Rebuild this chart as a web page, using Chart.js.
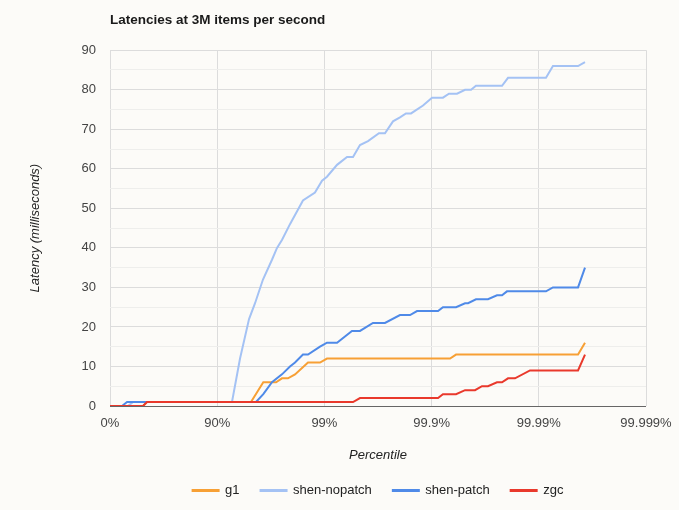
<!DOCTYPE html>
<html>
<head>
<meta charset="utf-8">
<title>Latencies at 3M items per second</title>
<script src="https://cdn.jsdelivr.net/npm/chart.js@4.4.1/dist/chart.umd.min.js"></script>
<style>
  body { margin: 0; background: #fcfbf8; }
  #wrap { width: 679px; height: 510px; }
</style>
</head>
<body>
<div id="wrap"><canvas id="latencyCanvas" width="679" height="510"></canvas></div>
<script>
// x values are in "nines": 0 = 0%, 1 = 90%, 2 = 99%, 3 = 99.9%, ...
const percentileLabels = ['0%', '90%', '99%', '99.9%', '99.99%', '99.999%'];
const seriesNames = ['g1', 'shen-nopatch', 'shen-patch', 'zgc'];
const seriesColors = ['#f7a035', '#a4c2f4', '#4f8ae8', '#e9392c'];

const g1Nines = [0, 0.308, 0.345, 1.315, 1.430, 1.549, 1.604, 1.660, 1.726, 1.847, 1.959, 2.024, 3.172, 3.228, 4.366, 4.431];
const g1Ms    = [0, 0, 1, 1, 6, 6, 7, 7, 8, 11, 11, 12, 12, 13, 13, 16];

const shenNopatchNines = [0, 0.168, 0.215, 1.138, 1.213, 1.297, 1.353, 1.427, 1.511, 1.558,
  1.604, 1.679, 1.800, 1.912, 1.978, 2.024, 2.118, 2.211, 2.267, 2.332,
  2.407, 2.509, 2.565, 2.640, 2.705, 2.761, 2.808, 2.920, 3.004, 3.106,
  3.162, 3.237, 3.312, 3.368, 3.414, 3.657, 3.713, 4.067, 4.132, 4.366, 4.431];
const shenNopatchMs = [0, 0, 1, 1, 12, 22, 26, 32, 37, 40,
  42, 46, 52, 54, 57, 58, 61, 63, 63, 66,
  67, 69, 69, 72, 73, 74, 74, 76, 78, 78,
  79, 79, 80, 80, 81, 81, 83, 83, 86, 86, 87];

const shenPatchNines = [0, 0.112, 0.159, 1.362, 1.430, 1.511, 1.604, 1.679, 1.726, 1.800,
  1.847, 1.959, 2.024, 2.118, 2.257, 2.332, 2.453, 2.565, 2.705, 2.799,
  2.864, 3.060, 3.106, 3.228, 3.312, 3.340, 3.414, 3.526, 3.610, 3.657,
  3.703, 4.067, 4.132, 4.366, 4.431];
const shenPatchMs = [0, 0, 1, 1, 3, 6, 8, 10, 11, 13,
  13, 15, 16, 16, 19, 19, 21, 21, 23, 23,
  24, 24, 25, 25, 26, 26, 27, 27, 28, 28,
  29, 29, 30, 30, 35];

const zgcNines = [0, 0.308, 0.345, 2.267, 2.332, 3.060, 3.106, 3.228, 3.312, 3.405,
  3.470, 3.526, 3.610, 3.657, 3.713, 3.778, 3.918, 4.366, 4.431];
const zgcMs = [0, 0, 1, 1, 2, 2, 3, 3, 4, 4,
  5, 5, 6, 6, 7, 7, 9, 9, 13];

const yTicks = { min: 0, max: 90, step: 5, labelEvery: 10 };

Chart.defaults.font.family = '"Liberation Sans", Arial, sans-serif';

function toPoints(nines, ms) {
  return nines.map((x, i) => ({ x: x, y: ms[i] }));
}

const allNines = [g1Nines, shenNopatchNines, shenPatchNines, zgcNines];
const allMs = [g1Ms, shenNopatchMs, shenPatchMs, zgcMs];

// later series are painted on top, like the original
const datasets = seriesNames.map((name, i) => ({
  label: name,
  data: toPoints(allNines[i], allMs[i]),
  borderColor: seriesColors[i],
  backgroundColor: seriesColors[i],
  borderWidth: 2,
  pointRadius: 0,
  tension: 0,
  fill: false,
  order: seriesNames.length - i
}));

const ctx = document.getElementById('latencyCanvas').getContext('2d');

new Chart(ctx, {
  type: 'line',
  data: { datasets: datasets },
  options: {
    responsive: false,
    animation: false,
    layout: { padding: { top: 0, right: 33, bottom: 3, left: 0 } },
    plugins: {
      title: {
        display: true,
        text: 'Latencies at 3M items per second',
        align: 'start',
        fullSize: false,
        color: '#1a1a1a',
        font: { size: 13.5, weight: 'bold' },
        padding: { top: 12, bottom: 22 }
      },
      legend: {
        position: 'bottom',
        fullSize: false,
        labels: {
          boxWidth: 26,
          boxHeight: 1,
          padding: 21,
          color: '#222',
          font: { size: 13 },
          sort: (a, b) => a.datasetIndex - b.datasetIndex
        }
      },
      tooltip: { enabled: false }
    },
    scales: {
      x: {
        type: 'linear',
        min: 0,
        max: percentileLabels.length - 1,
        afterFit: (scale) => {
          scale.height = 57;
          scale.paddingRight = 0;
        },
        ticks: {
          stepSize: 1,
          padding: 10,
          autoSkip: false,
          maxRotation: 0,
          color: '#444',
          font: { size: 13 },
          callback: (v) => percentileLabels[v] ?? ''
        },
        grid: { color: '#dcdcdc', drawTicks: false },
        border: { display: false },
        title: {
          display: true,
          text: 'Percentile',
          color: '#222',
          font: { size: 13, style: 'italic' },
          padding: 0
        }
      },
      y: {
        min: yTicks.min,
        max: yTicks.max,
        afterFit: (scale) => { scale.width = 110; },
        ticks: {
          stepSize: yTicks.step,
          padding: 14,
          color: '#444',
          font: { size: 13 },
          callback: (v) => (v % yTicks.labelEvery === 0 ? v : '')
        },
        grid: {
          drawTicks: false,
          color: (c) => {
            if (c.tick.value === 0) return '#666';
            return c.tick.value % yTicks.labelEvery === 0 ? '#dcdcdc' : '#eeeeec';
          }
        },
        border: { display: false },
        title: {
          display: true,
          text: 'Latency (milliseconds)',
          color: '#222',
          font: { size: 13, style: 'italic' },
          padding: { top: 28, bottom: 0 }
        }
      }
    }
  }
});
</script>
</body>
</html>
